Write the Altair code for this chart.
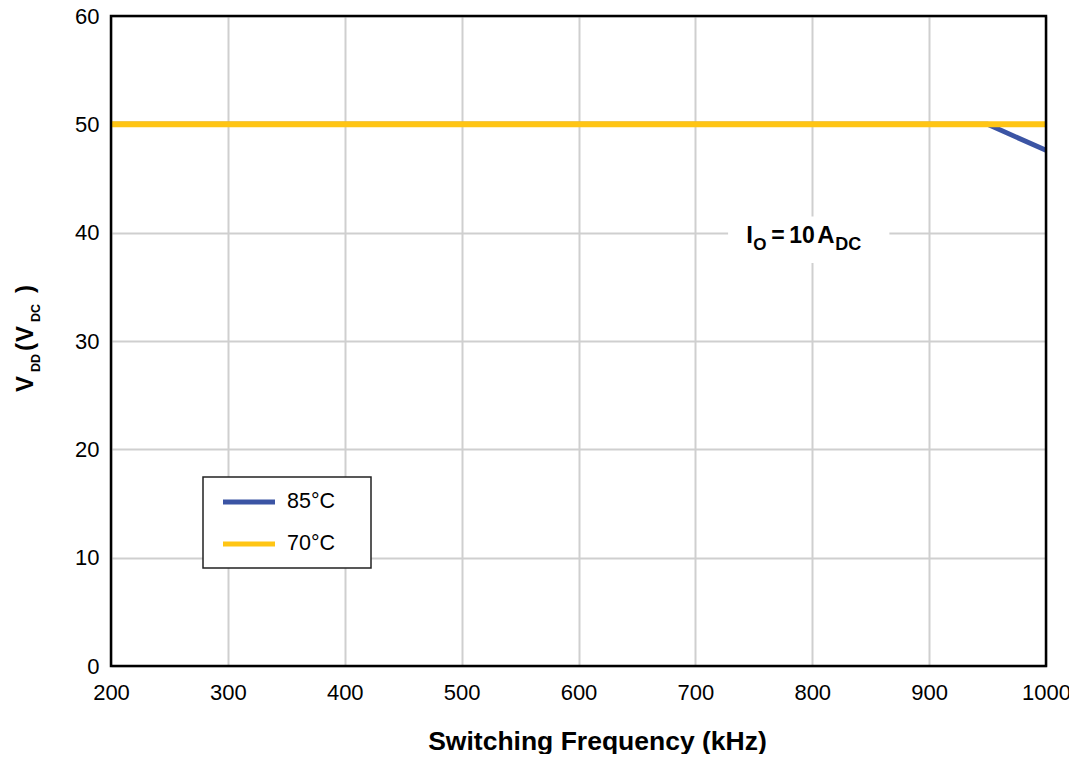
import altair as alt
import pandas as pd

# ---- data ----
series_names = ["85°C", "70°C"]
series_colors = ["#3b54a4", "#ffc514"]
freq_85 = [200, 950, 1000]
vdd_85 = [50, 50, 47.6]
freq_70 = [200, 1000]
vdd_70 = [50, 50]
x_ticks = [200, 300, 400, 500, 600, 700, 800, 900, 1000]
y_ticks = [0, 10, 20, 30, 40, 50, 60]

FONT = "Liberation Sans"

df = pd.DataFrame(
    [{"f": f, "v": v, "s": "85°C", "o": 0} for f, v in zip(freq_85, vdd_85)]
    + [{"f": f, "v": v, "s": "70°C", "o": 1} for f, v in zip(freq_70, vdd_70)]
)

xs = alt.Scale(domain=[200, 1000], nice=False, zero=False)
ys = alt.Scale(domain=[0, 60], nice=False)

x_axis = alt.Axis(
    values=x_ticks, format="d", grid=True, ticks=False, domain=False, labelFont=FONT,
    labelFontSize=22, labelColor="#000", labelPadding=16,
    title="Switching Frequency (kHz)", titleFont=FONT, titleFontSize=26.5,
    titleFontWeight="bold", titleColor="#000", titleX=486, titleY=83,
    titleBaseline="alphabetic", titleAlign="center", gridColor="#cfcfcf",
    gridWidth=2, labelFlush=False,
)
y_axis = alt.Axis(
    values=y_ticks, grid=True, ticks=False, domain=False, labelFont=FONT,
    labelFontSize=22, labelColor="#000", labelPadding=12, title=None,
    gridColor="#cfcfcf", gridWidth=2, labelFlush=False,
)

lines = alt.Chart(df).mark_line(strokeCap="butt").encode(
    x=alt.X("f:Q", scale=xs, axis=x_axis),
    y=alt.Y("v:Q", scale=ys, axis=y_axis),
    color=alt.Color("s:N", scale=alt.Scale(domain=series_names, range=series_colors), legend=None),
    strokeWidth=alt.StrokeWidth("s:N", scale=alt.Scale(domain=series_names, range=[5, 6]), legend=None),
    order=alt.Order("o:Q"),
    detail="s:N",
)

# annotation background box
box_df = pd.DataFrame({"x1": [728], "x2": [866], "y1": [37.2], "y2": [41.5]})
box = alt.Chart(box_df).mark_rect(color="white").encode(
    x=alt.X("x1:Q", scale=xs), x2="x2:Q", y=alt.Y("y1:Q", scale=ys), y2="y2:Q"
)

# plot frame drawn on top of the grid
frame_df = pd.DataFrame({"x1": [200], "x2": [1000], "y1": [0], "y2": [60]})
frame = alt.Chart(frame_df).mark_rect(fill="white", fillOpacity=0, stroke="#000", strokeWidth=2.5).encode(
    x=alt.X("x1:Q", scale=xs), x2="x2:Q", y=alt.Y("y1:Q", scale=ys), y2="y2:Q"
)

ann_df = pd.DataFrame({"x": [800], "y": [40]})
def ann(text, dx, dy, size):
    return alt.Chart(ann_df).mark_text(
        text=text, align="left", baseline="alphabetic", dx=dx, dy=dy,
        font=FONT, fontSize=size, fontWeight="bold", color="#000"
    ).encode(x=alt.X("x:Q", scale=xs), y=alt.Y("y:Q", scale=ys))

annotation = (
    ann("I", -66, 10.5, 24) + ann("O", -59, 17.5, 17) + ann("=", -41, 10.5, 23)
    + ann("10", -23, 10.5, 23) + ann("A", 5, 10.5, 24) + ann("DC", 23, 17.5, 18)
)

# y title with subscripts (rotated)
def ytitle(text, ypix, size, xpix):
    return alt.Chart(ann_df).mark_text(
        text=text, align="left", baseline="alphabetic", angle=270,
        font=FONT, fontSize=size, fontWeight="bold", color="#000"
    ).encode(x=alt.value(xpix), y=alt.value(ypix))

y_title = (
    ytitle("V", 376, 24, -78) + ytitle("DD", 356, 12.5, -71) + ytitle("(", 335, 24, -78)
    + ytitle("V", 326, 24, -78) + ytitle("DC", 306, 12.5, -71) + ytitle(")", 277, 24, -78)
)

# manual legend
leg_box = alt.Chart(ann_df).mark_rect(fill="white", stroke="#222", strokeWidth=1.5).encode(
    x=alt.value(92), x2=alt.value(260), y=alt.value(461), y2=alt.value(552)
)
leg_items = []
for i, (name, col) in enumerate(zip(series_names, series_colors)):
    ypix = 486 + 42 * i
    leg_items.append(
        alt.Chart(ann_df).mark_rule(color=col, strokeWidth=5).encode(
            x=alt.value(112), x2=alt.value(164), y=alt.value(ypix)
        )
    )
    leg_items.append(
        alt.Chart(ann_df).mark_text(
            text=name, align="left", baseline="middle", font=FONT, fontSize=21.5, color="#000"
        ).encode(x=alt.value(176), y=alt.value(ypix))
    )

chart = alt.layer(box, lines, frame, annotation, y_title, leg_box, *leg_items).properties(
    width=935, height=650,
    autosize=alt.AutoSizeParams(type="none"),
    padding={"left": 103, "top": 8, "right": 23, "bottom": 88},
).configure(background="white").configure_view(stroke=None)

chart.save("out.html", embed_options={"renderer": "svg", "actions": False})
